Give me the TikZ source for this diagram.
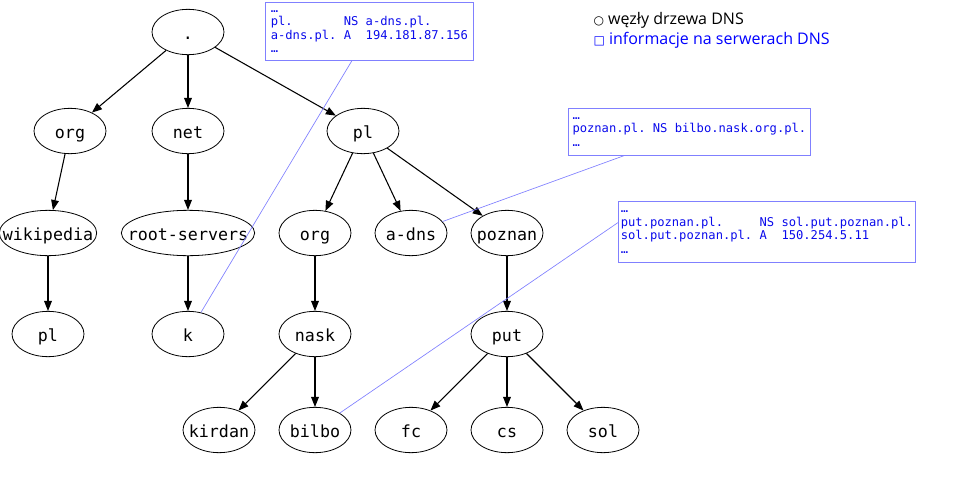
\documentclass[tikz,border=0pt]{standalone}
\usepackage{fontspec}
\setmonofont{DejaVu Sans Mono}
\newfontfamily\legendfont{Open Sans}
\newfontfamily\symbolfont{DejaVu Sans}
\usetikzlibrary{arrows.meta,shapes.geometric}
\definecolor{rrline}{RGB}{128,128,255}
\definecolor{rrtext}{RGB}{10,10,235}

\begin{document}
\begin{tikzpicture}[x=0.75pt,y=-0.75pt,->,>={Triangle[length=7.5pt,width=5.8pt]},line width=0.8pt,
    dns node/.style={ellipse,draw,line width=0.6pt,minimum width=54pt,minimum height=34pt,inner sep=0pt},
    every label/.style={font=\ttfamily\fontsize{12.5}{15}\selectfont,inner sep=0pt,text height=13pt,text depth=2pt},
    rr box/.style={draw=rrline,line width=0.6pt,anchor=north west,align=left,inner xsep=1.5pt,
        text=rrtext,font=\ttfamily\fontsize{9.1}{10.1}\selectfont},
    rr line/.style={-,draw=rrline,line width=0.5pt}]
\useasboundingbox (0,0) rectangle (957,500);

% drzewo DNS
\node[dns node, label=center:.] (root) at (188,32) {};
\node[dns node, label=center:org] (org) at (70,131) {};
\node[dns node, label=center:net] (net) at (188,131) {};
\node[dns node, label=center:pl] (pl) at (363,131) {};
\node[dns node, label=center:wikipedia, minimum width=73pt] (wiki) at (48,233) {};
\node[dns node, label=center:root-servers, minimum width=100pt] (rootsrv) at (188,233) {};
\node[dns node, label=center:org] (plorg) at (315,233) {};
\node[dns node, label=center:a-dns] (adns) at (411,233) {};
\node[dns node, label=center:poznan] (poznan) at (507,233) {};
\node[dns node, label=center:pl] (wikipl) at (48,334) {};
\node[dns node, label=center:k] (k) at (188,334) {};
\node[dns node, label=center:nask] (nask) at (315,334) {};
\node[dns node, label=center:put] (put) at (507,334) {};
\node[dns node, label=center:kirdan] (kirdan) at (219,430) {};
\node[dns node, label=center:bilbo] (bilbo) at (315,430) {};
\node[dns node, label=center:fc] (fc) at (411,430) {};
\node[dns node, label=center:cs] (cs) at (507,430) {};
\node[dns node, label=center:sol] (sol) at (603,430) {};

\path
(root) edge (org)
(root) edge (net)
(root) edge (pl)
(org) edge (wiki)
(net) edge (rootsrv)
(pl) edge (plorg)
(pl) edge (adns)
(pl) edge (poznan)
(wiki) edge (wikipl)
(rootsrv) edge (k)
(plorg) edge (nask)
(poznan) edge (put)
(nask) edge (kirdan)
(nask) edge (bilbo)
(put) edge (fc)
(put) edge (cs)
(put) edge (sol)
;

% informacje na serwerach
\node[rr box, minimum width=156pt, minimum height=43.5pt] (rrpl) at (265,2)
    {…\\pl.~~~~~~~NS a-dns.pl.\\a-dns.pl. A~~194.181.87.156\\…};
\node[rr box, minimum width=181.5pt, minimum height=35.25pt] (rrpoznan) at (568,108)
    {…\\poznan.pl. NS bilbo.nask.org.pl.\\…};
\node[rr box, minimum width=222.75pt, minimum height=45.75pt] (rrput) at (618,201)
    {…\\put.poznan.pl.~~~~~NS sol.put.poznan.pl.\\sol.put.poznan.pl. A~~150.254.5.11\\…};

\draw[rr line] (rrpl) -- (k);
\draw[rr line] (rrpoznan) -- (adns);
\draw[rr line] ([yshift=7pt]rrput.west) -- (bilbo);

% legenda
\node[anchor=west, inner sep=0pt, font=\legendfont\fontsize{12}{14}\selectfont] (legtree) at (593,20)
    {{\symbolfont\fontsize{9}{10}\selectfont ○} węzły drzewa DNS};
\node[anchor=west, inner sep=0pt, font=\legendfont\fontsize{12}{14}\selectfont, text=blue] (legrr) at (593,40)
    {{\symbolfont\fontsize{9}{10}\selectfont □} informacje na serwerach DNS};

\end{tikzpicture}
\end{document}
